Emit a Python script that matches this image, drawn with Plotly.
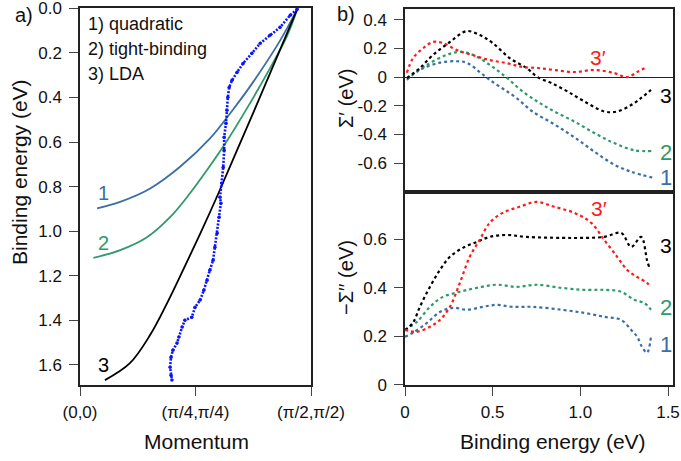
import plotly.graph_objects as go

# ---------------- data: panel a ----------------
k_quad = [0.037, 0.087, 0.152, 0.216, 0.281, 0.331, 0.375, 0.433, 0.470]
e_quad = [0.897, 0.868, 0.808, 0.712, 0.585, 0.455, 0.330, 0.145, 0.005]

k_tb = [0.029, 0.087, 0.145, 0.195, 0.238, 0.275, 0.318, 0.361, 0.405, 0.448, 0.470]
e_tb = [1.120, 1.085, 1.027, 0.937, 0.830, 0.725, 0.595, 0.450, 0.292, 0.125, 0.005]

k_lda = [0.054, 0.108, 0.152, 0.188, 0.223, 0.260, 0.299, 0.340, 0.383, 0.426, 0.470]
e_lda = [1.668, 1.592, 1.465, 1.325, 1.175, 1.012, 0.833, 0.636, 0.430, 0.220, 0.005]

k_mdc = [0.470, 0.455, 0.433, 0.411, 0.390, 0.372, 0.353, 0.340, 0.329, 0.323,
         0.320, 0.318, 0.316, 0.312, 0.312, 0.310, 0.307, 0.303, 0.305, 0.301,
         0.297, 0.292, 0.288, 0.281, 0.275, 0.268, 0.260, 0.249, 0.242, 0.227,
         0.221, 0.214, 0.210, 0.201, 0.197, 0.195, 0.197, 0.199]
e_mdc = [0.004, 0.031, 0.085, 0.121, 0.157, 0.202, 0.247, 0.287, 0.323, 0.354,
         0.399, 0.457, 0.516, 0.578, 0.637, 0.713, 0.785, 0.848, 0.874, 0.937,
         1.009, 1.072, 1.130, 1.175, 1.220, 1.265, 1.309, 1.341, 1.386, 1.399,
         1.430, 1.475, 1.502, 1.534, 1.565, 1.610, 1.646, 1.668]

a_xticks = [0, 0.25, 0.5]
a_xlabels = ["(0,0)", "(\u03c0/4,\u03c0/4)", "(\u03c0/2,\u03c0/2)"]
a_yticks = [0.0, 0.2, 0.4, 0.6, 0.8, 1.0, 1.2, 1.4, 1.6]
a_ylabels = ["0.0", "0.2", "0.4", "0.6", "0.8", "1.0", "1.2", "1.4", "1.6"]

# ---------------- data: panel b, real part ----------------
be_re1 = [0.011, 0.085, 0.199, 0.295, 0.352, 0.426, 0.483, 0.557, 0.636, 0.727,
          0.852, 0.966, 1.080, 1.193, 1.290, 1.410]
re1 = [-0.02, 0.05, 0.10, 0.11, 0.10, 0.035, -0.02, -0.08, -0.146, -0.24,
       -0.33, -0.42, -0.52, -0.61, -0.66, -0.70]

be_re2 = [0.011, 0.125, 0.239, 0.313, 0.386, 0.483, 0.580, 0.670, 0.767,
          0.852, 0.966, 1.080, 1.193, 1.307, 1.410]
re2 = [-0.01, 0.085, 0.155, 0.175, 0.155, 0.085, -0.005, -0.10, -0.18,
       -0.24, -0.31, -0.39, -0.46, -0.51, -0.515]

be_re3 = [0.011, 0.085, 0.159, 0.256, 0.352, 0.426, 0.500, 0.597, 0.693, 0.756,
          0.835, 0.926, 1.023, 1.136, 1.210, 1.290, 1.347, 1.403]
re3 = [-0.007, 0.063, 0.153, 0.244, 0.32, 0.293, 0.237, 0.132, 0.063, 0.0,
       -0.042, -0.10, -0.17, -0.24, -0.24, -0.195, -0.146, -0.09]

be_re3p = [0.011, 0.045, 0.102, 0.159, 0.216, 0.295, 0.386, 0.483, 0.580, 0.670,
           0.756, 0.852, 0.966, 1.080, 1.193, 1.267, 1.324, 1.380]
re3p = [0.03, 0.13, 0.20, 0.244, 0.237, 0.188, 0.153, 0.118, 0.097, 0.07,
        0.063, 0.049, 0.035, 0.049, 0.028, 0.0, 0.035, 0.07]

# ---------------- data: panel b, imaginary part ----------------
be_im1 = [0.0, 0.045, 0.125, 0.199, 0.273, 0.352, 0.443, 0.523, 0.614, 0.727,
          0.892, 1.023, 1.136, 1.233, 1.290, 1.324, 1.352, 1.380, 1.403]
im1 = [0.198, 0.214, 0.255, 0.30, 0.317, 0.309, 0.321, 0.329, 0.321, 0.321,
       0.309, 0.296, 0.28, 0.267, 0.226, 0.198, 0.156, 0.132, 0.198]

be_im2 = [0.0, 0.068, 0.142, 0.216, 0.313, 0.409, 0.523, 0.636, 0.750,
          0.892, 1.023, 1.136, 1.233, 1.307, 1.364, 1.403]
im2 = [0.226, 0.259, 0.321, 0.362, 0.383, 0.399, 0.412, 0.403, 0.412,
       0.399, 0.391, 0.391, 0.383, 0.35, 0.337, 0.309]

be_im3 = [0.0, 0.045, 0.085, 0.142, 0.199, 0.256, 0.330, 0.409, 0.483, 0.580, 0.693,
          0.892, 1.023, 1.136, 1.233, 1.290, 1.347, 1.380, 1.392]
im3 = [0.226, 0.255, 0.321, 0.403, 0.473, 0.527, 0.564, 0.588, 0.609, 0.617, 0.609,
       0.605, 0.605, 0.609, 0.625, 0.568, 0.609, 0.514, 0.486]

be_im3p = [0.0, 0.068, 0.142, 0.199, 0.256, 0.313, 0.369, 0.426, 0.483, 0.557, 0.653,
           0.750, 0.852, 0.966, 1.062, 1.136, 1.210, 1.267, 1.324, 1.380, 1.403]
im3p = [0.226, 0.218, 0.239, 0.267, 0.321, 0.420, 0.527, 0.597, 0.667, 0.708, 0.733,
        0.753, 0.733, 0.708, 0.667, 0.597, 0.527, 0.473, 0.444, 0.420, 0.403]

b_xticks = [0, 0.5, 1.0, 1.5]
b_xlabels = ["0", "0.5", "1.0", "1.5"]
re_yticks = [0.4, 0.2, 0, -0.2, -0.4, -0.6]
re_ylabels = ["0.4", "0.2", "0", "-0.2", "-0.4", "-0.6"]
im_yticks = [0, 0.2, 0.4, 0.6]
im_ylabels = ["0", "0.2", "0.4", "0.6"]

# ---------------- styling ----------------
W, H = 681, 461
C1 = "#3a6ea5"
C2 = "#2e9a6a"
C3 = "#000000"
C3P = "#ff1a1a"
CMDC = "#0a14ff"
FONT = "Liberation Sans, Arial, sans-serif"


def px(x):
    return x / W


def py(y):
    return 1 - y / H


fig = go.Figure()

# panel a
for k, e, c in [(k_quad, e_quad, C1), (k_tb, e_tb, C2), (k_lda, e_lda, C3)]:
    fig.add_trace(go.Scatter(x=k, y=e, mode="lines", line=dict(color=c, width=1.8, shape="spline", smoothing=1.0),
                             xaxis="x", yaxis="y", showlegend=False))
fig.add_trace(go.Scatter(x=k_mdc, y=e_mdc, mode="lines+markers",
                         line=dict(color=CMDC, width=2.6, dash="2px,1.5px"),
                         marker=dict(color=CMDC, size=3.5),
                         xaxis="x", yaxis="y", showlegend=False))

# panel b top
for x, y, c in [(be_re1, re1, C1), (be_re2, re2, C2), (be_re3, re3, C3), (be_re3p, re3p, C3P)]:
    fig.add_trace(go.Scatter(x=x, y=y, mode="lines", line=dict(color=c, width=2.2, dash="dot", shape="spline"),
                             xaxis="x2", yaxis="y2", showlegend=False))
# panel b bottom
for x, y, c in [(be_im1, im1, C1), (be_im2, im2, C2), (be_im3, im3, C3), (be_im3p, im3p, C3P)]:
    fig.add_trace(go.Scatter(x=x, y=y, mode="lines", line=dict(color=c, width=2.2, dash="dot", shape="spline"),
                             xaxis="x3", yaxis="y3", showlegend=False))

axis_common = dict(showline=True, linecolor="#222", linewidth=1.5, mirror=True, showgrid=False,
                   zeroline=False, ticks="outside", ticklen=9, tickcolor="#444", tickwidth=1.2,
                   automargin=False, ticklabelstandoff=4, ticklabeloverflow="allow",
                   tickfont=dict(family=FONT, size=17, color="#111"))

fig.update_layout(
    template="none",
    width=W, height=H, margin=dict(l=0, r=0, t=0, b=0, pad=0, autoexpand=False),
    paper_bgcolor="white", plot_bgcolor="white",
    font=dict(family=FONT, size=17, color="#111"),
    xaxis=dict(axis_common, domain=[px(80), px(311)], range=[0, 0.5], tickvals=a_xticks,
               ticktext=a_xlabels, anchor="y", ticklabelstandoff=2),
    yaxis=dict(axis_common, domain=[py(385), py(8)], range=[1.69, -0.0015], tickvals=a_yticks,
               ticktext=a_ylabels, anchor="x"),
    xaxis2=dict(axis_common, domain=[px(405), px(673)], range=[0, 1.5285], showticklabels=False,
                ticks="", anchor="y2"),
    yaxis2=dict(axis_common, domain=[py(192), py(9)], range=[-0.801, 0.474], tickvals=re_yticks,
                ticktext=re_ylabels, anchor="x2", zeroline=True, zerolinecolor="#222", zerolinewidth=1.2),
    xaxis3=dict(axis_common, domain=[px(405), px(673)], range=[0, 1.5285], tickvals=b_xticks,
                ticktext=b_xlabels, anchor="y3", ticklabelstandoff=2),
    yaxis3=dict(axis_common, domain=[py(385), py(192)], range=[-0.001, 0.794], tickvals=im_yticks,
                ticktext=im_ylabels, anchor="x3"),
)


def ann(text, x, y, size=18, color="#111", angle=0, xanchor="center"):
    fig.add_annotation(text=text, x=px(x), y=py(y), xref="paper", yref="paper", showarrow=False,
                       xanchor=xanchor, yanchor="middle", textangle=angle,
                       font=dict(family=FONT, size=size, color=color))


ann("a)", 24, 15, size=20)
ann("b)", 346, 14, size=20)
ann("1) quadratic", 86, 24, size=18, xanchor="left")
ann("2) tight-binding", 86, 49, size=18, xanchor="left")
ann("3) LDA", 86, 74, size=18, xanchor="left")
ann("1", 103, 193, size=20, color=C1)
ann("2", 103, 243, size=20, color=C2)
ann("3", 103, 365, size=20, color=C3)
ann("Binding energy (eV)", 19, 172, size=21, angle=-90)
ann("Momentum", 196, 441, size=21)
ann("Binding energy (eV)", 553, 441, size=21)
ann("\u03a3\u2032 (eV)", 346, 98, size=20, angle=-90)
ann("\u2212\u03a3\u2032\u2032 (eV)", 346, 277, size=20, angle=-90)
ann("3\u2032", 598, 58, size=21, color=C3P)
ann("3", 666, 96, size=21, color=C3)
ann("2", 666, 152, size=22, color=C2)
ann("1", 666, 177, size=22, color=C1)
ann("3\u2032", 599, 208, size=21, color=C3P)
ann("3", 666, 245, size=21, color=C3)
ann("2", 666, 307, size=22, color=C2)
ann("1", 666, 344, size=22, color=C1)

fig.write_html("out.html")
